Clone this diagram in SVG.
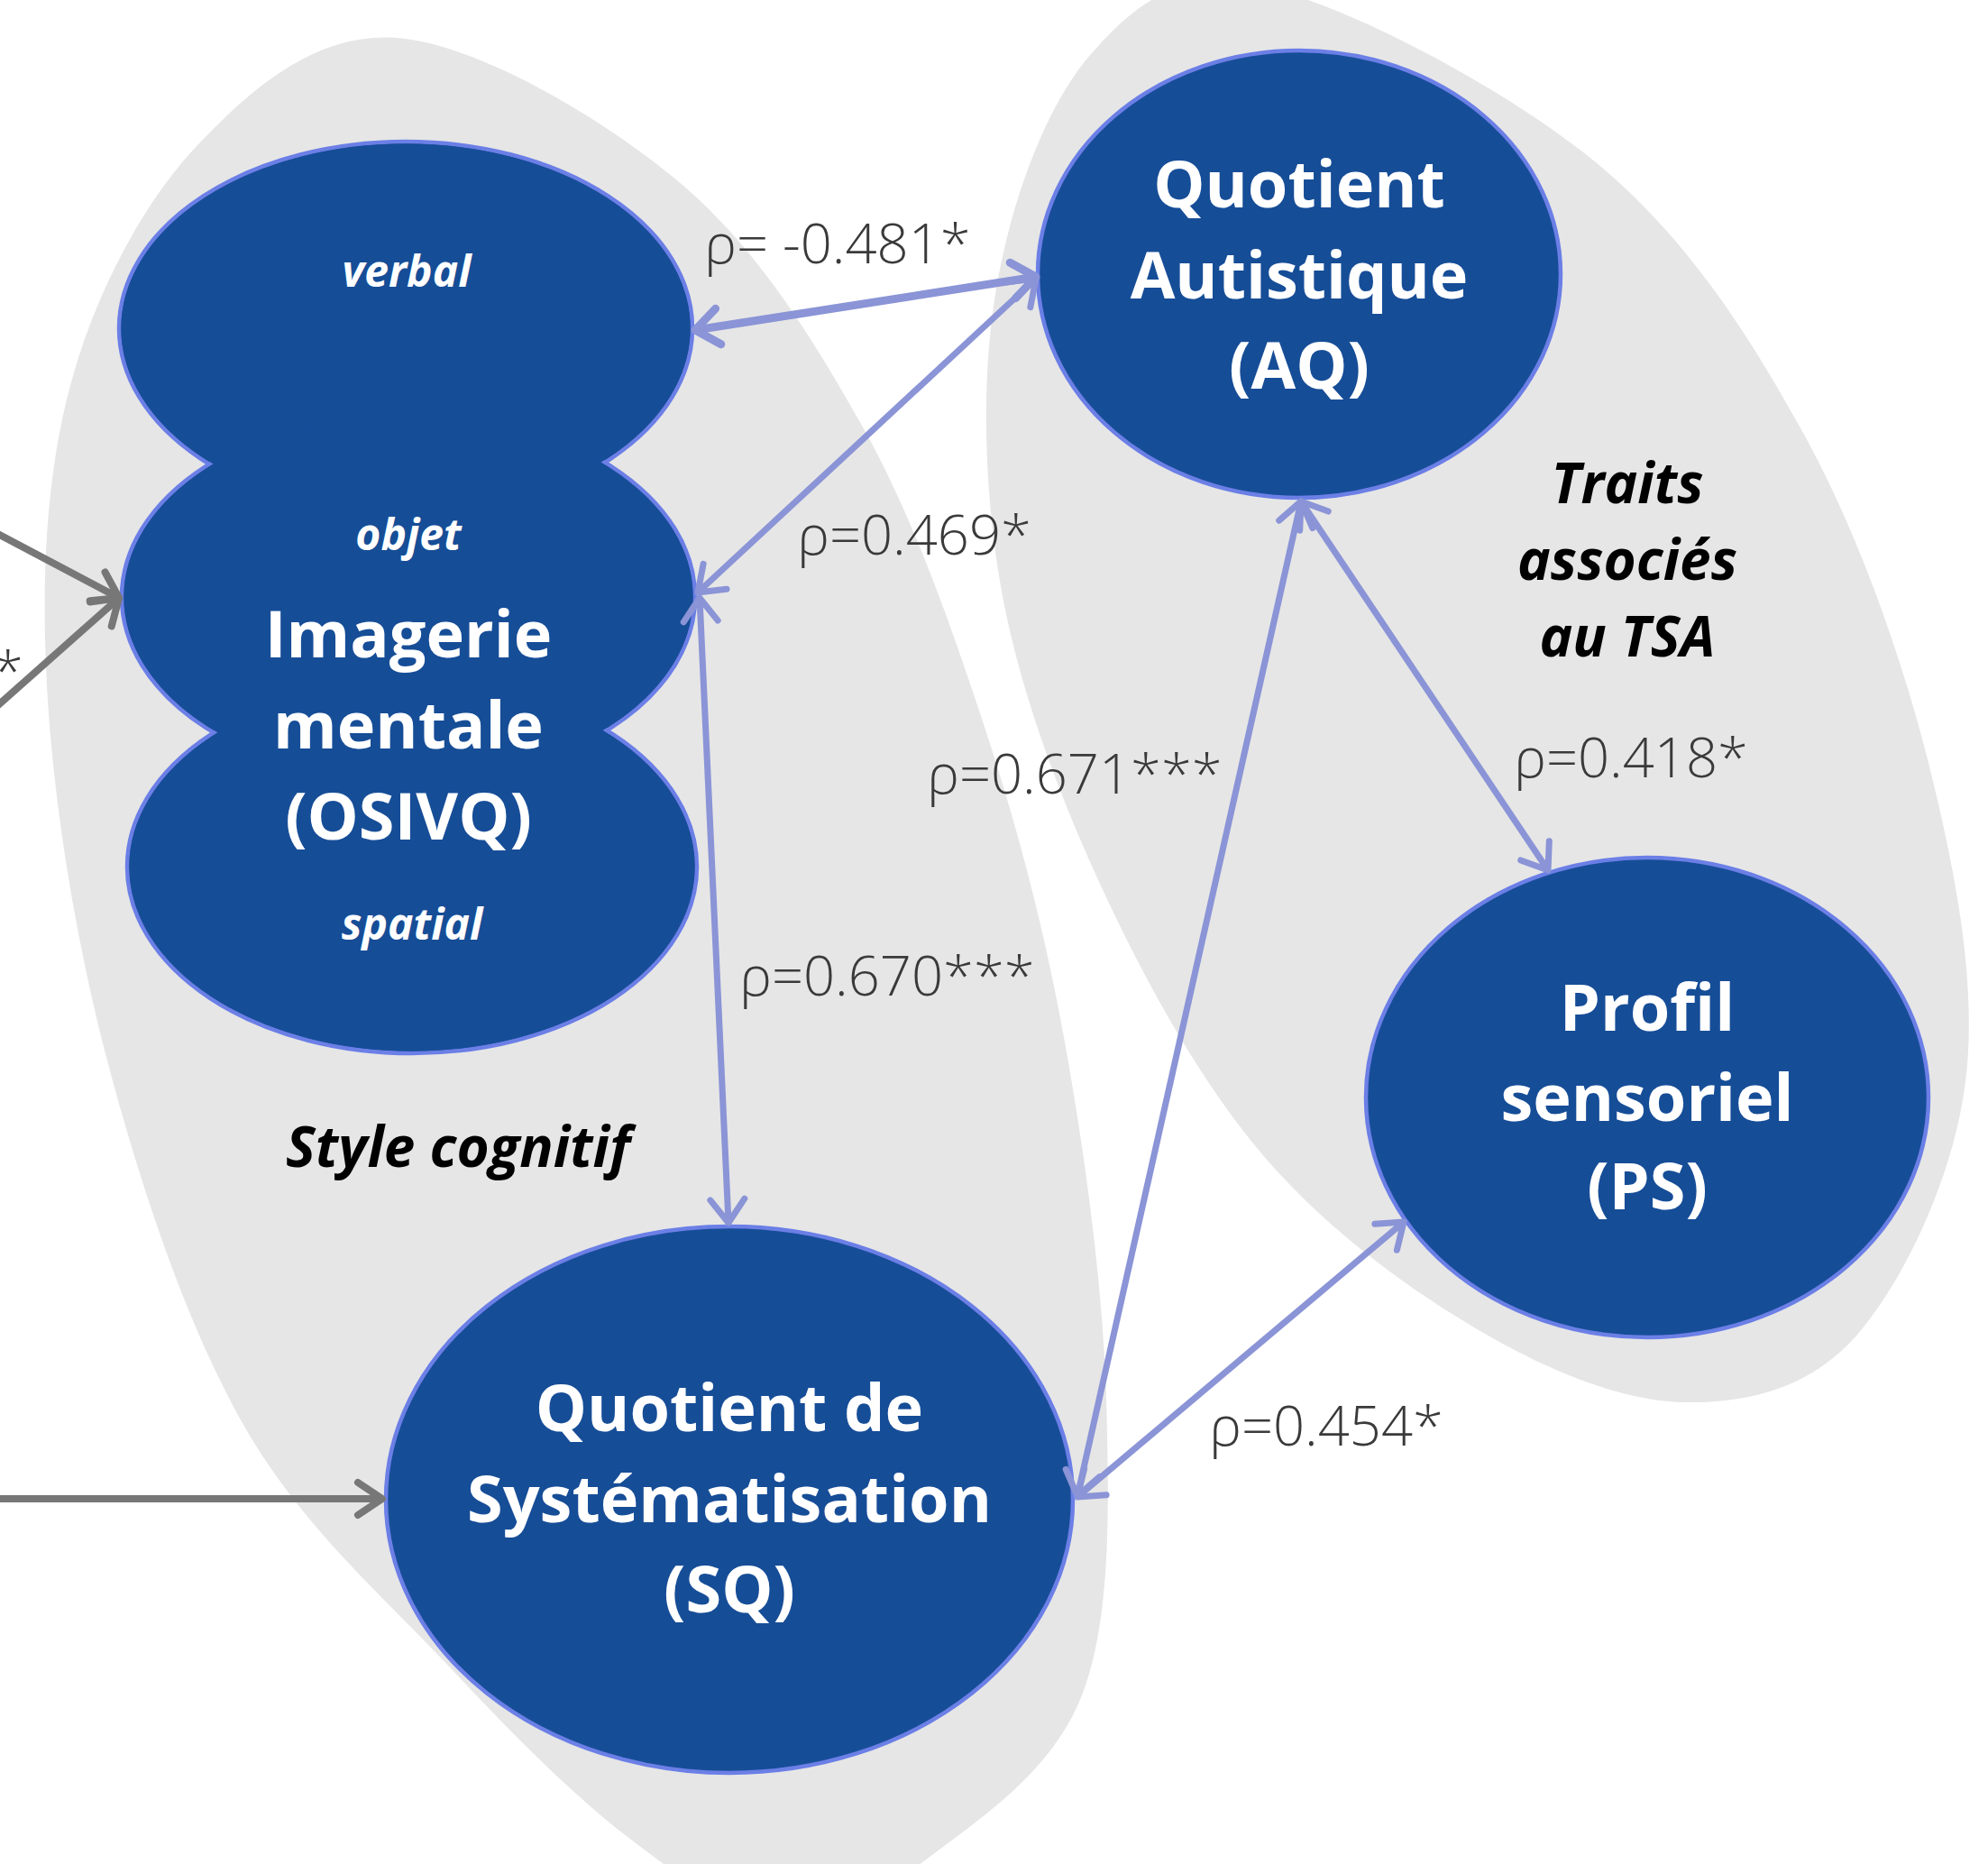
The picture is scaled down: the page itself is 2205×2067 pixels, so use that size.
<svg xmlns="http://www.w3.org/2000/svg" width="2205" height="2067" viewBox="0 0 2205 2067">
<style>
.bg{fill:#E6E6E6;stroke:none}
.node{fill:#164D97;stroke:#6B7FE6;stroke-width:4.5}
.nodefill{fill:#164D97;stroke:none}
.t{font-family:"Open Sans","Liberation Sans",sans-serif;font-weight:700;font-size:72px;fill:#FFFFFF;text-anchor:middle}
.ti{font-family:"Open Sans","Liberation Sans",sans-serif;font-weight:700;font-style:italic;font-size:48px;fill:#FFFFFF;text-anchor:middle}
.grp{font-family:"Open Sans","Liberation Sans",sans-serif;font-weight:700;font-style:italic;font-size:62px;fill:#000000;text-anchor:middle}
.rho{font-family:"Open Sans","Liberation Sans",sans-serif;font-weight:300;font-size:61.5px;fill:#3A3A3A}
.blue{stroke:#8A94D6;stroke-width:7;fill:none;marker-start:url(#bh);marker-end:url(#bh)}
.blue9{stroke:#8A94D6;stroke-width:9;fill:none;marker-start:url(#bh9);marker-end:url(#bh9)}
.grey{stroke:#777777;stroke-width:8;fill:none;marker-end:url(#gh)}
</style>
<defs>
<marker id="bh" markerUnits="userSpaceOnUse" markerWidth="60" markerHeight="60" refX="0" refY="0" viewBox="-40 -30 50 60" orient="auto-start-reverse" overflow="visible">
<path d="M-26,-19 L0,0 L-26,19" fill="none" stroke="#8A94D6" stroke-width="7" stroke-linecap="round" stroke-linejoin="round"/>
</marker>
<marker id="bh9" markerUnits="userSpaceOnUse" markerWidth="60" markerHeight="60" refX="0" refY="0" viewBox="-40 -30 50 60" orient="auto-start-reverse" overflow="visible">
<path d="M-26,-20 L0,0 L-26,20" fill="none" stroke="#8A94D6" stroke-width="9" stroke-linecap="round" stroke-linejoin="round"/>
</marker>
<marker id="gh" markerUnits="userSpaceOnUse" markerWidth="60" markerHeight="60" refX="0" refY="0" viewBox="-40 -30 50 60" orient="auto" overflow="visible">
<path d="M-27,-18 L0,0 L-27,18" fill="none" stroke="#777777" stroke-width="8" stroke-linecap="round" stroke-linejoin="round"/>
</marker>
</defs>
<rect x="0" y="0" width="2205" height="2067" fill="#FFFFFF"/>
<g id="group-style-cognitif">
<path class="bg" d="M440,42 C528.5,48.7 665.2,128.7 751,200 C836.8,271.3 898.5,370 955,470 C1011.5,570 1052.5,686.7 1090,800 C1127.5,913.3 1157.2,1025 1180,1150 C1202.8,1275 1223.7,1428.3 1227,1550 C1230.3,1671.7 1232.8,1795 1200,1880 C1167.2,1965 1085,2018.3 1030,2060 C975,2101.7 925,2133.3 870,2130 C815,2126.7 761.7,2086.7 700,2040 C638.3,1993.3 571.7,1926.7 500,1850 C428.3,1773.3 333.3,1691.7 270,1580 C206.7,1468.3 156.3,1316.7 120,1180 C83.7,1043.3 58.7,886.7 52,760 C45.3,633.3 52,520 80,420 C108,320 160,223 220,160 C280,97 351.5,35.3 440,42 Z"/>
<text class="grp" x="508" y="1294">Style cognitif</text>
</g>
<g id="group-traits-tsa">
<path class="bg" d="M1400,-15 C1493.3,5 1670,97.5 1770,180 C1870,262.5 1938.3,368.3 2000,480 C2061.7,591.7 2110,730 2140,850 C2170,970 2193.3,1095 2180,1200 C2166.7,1305 2111.7,1420.8 2060,1480 C2008.3,1539.2 1940,1555.8 1870,1555 C1800,1554.2 1718.3,1520.8 1640,1475 C1561.7,1429.2 1470,1362.5 1400,1280 C1330,1197.5 1268.3,1085 1220,980 C1171.7,875 1129.2,760 1110,650 C1090.8,540 1088.3,418.3 1105,320 C1121.7,221.7 1160.8,115.8 1210,60 C1259.2,4.2 1306.7,-35 1400,-15 Z"/>
<text class="grp" x="1805" y="558">Traits</text>
<text class="grp" x="1805" y="643">associés</text>
<text class="grp" x="1805" y="728">au TSA</text>
</g>
<g id="node-osivq">
<ellipse class="node" cx="450" cy="364" rx="318" ry="207"/>
<ellipse class="node" cx="453" cy="662" rx="318" ry="205"/>
<ellipse class="node" cx="457" cy="961" rx="316" ry="207"/>
<ellipse class="nodefill" cx="450" cy="364" rx="315.5" ry="204.5"/>
<ellipse class="nodefill" cx="453" cy="662" rx="315.5" ry="202.5"/>
<ellipse class="nodefill" cx="457" cy="961" rx="313.5" ry="204.5"/>
<text class="ti" x="451" y="318">verbal</text>
<text class="ti" x="453" y="610">objet</text>
<text class="t" x="453" y="729">Imagerie</text>
<text class="t" x="453" y="830">mentale</text>
<text class="t" x="453" y="931">(OSIVQ)</text>
<text class="ti" x="457" y="1042">spatial</text>
</g>
<g id="node-aq">
<ellipse class="node" cx="1441" cy="304" rx="290" ry="248"/>
<text class="t" x="1441" y="230">Quotient</text>
<text class="t" x="1441" y="331">Autistique</text>
<text class="t" x="1441" y="431">(AQ)</text>
</g>
<g id="node-sq">
<ellipse class="node" cx="809" cy="1663" rx="381" ry="303"/>
<text class="t" x="809" y="1587">Quotient de</text>
<text class="t" x="809" y="1688">Systématisation</text>
<text class="t" x="809" y="1788">(SQ)</text>
</g>
<g id="node-ps">
<ellipse class="node" cx="1827" cy="1217" rx="312" ry="266"/>
<text class="t" x="1827" y="1143">Profil</text>
<text class="t" x="1827" y="1243">sensoriel</text>
<text class="t" x="1827" y="1341">(PS)</text>
</g>
<g id="connectors">
<line class="grey" x1="-10" y1="588" x2="132" y2="663"/>
<line class="grey" x1="-10" y1="789" x2="132" y2="663"/>
<line class="grey" x1="-10" y1="1662" x2="424" y2="1662"/>
<line class="blue9" x1="771" y1="366" x2="1149" y2="307"/>
<line class="blue" x1="774" y1="657" x2="1149" y2="309"/>
<line class="blue" x1="776" y1="663" x2="808" y2="1356"/>
<line class="blue" x1="1195" y1="1659" x2="1443" y2="556"/>
<line class="blue" x1="1195" y1="1660" x2="1557" y2="1355"/>
<line class="blue" x1="1443" y1="556" x2="1717" y2="965"/>
</g>
<g id="labels">
<text class="rho" x="-8" y="766">*</text>
<text class="rho" x="781" y="292">ρ= -0.481*</text>
<text class="rho" x="884" y="615">ρ=0.469*</text>
<text class="rho" x="1028" y="880">ρ=0.671***</text>
<text class="rho" x="820" y="1104">ρ=0.670***</text>
<text class="rho" x="1679" y="862">ρ=0.418*</text>
<text class="rho" x="1341" y="1603">ρ=0.454*</text>
</g>
</svg>
